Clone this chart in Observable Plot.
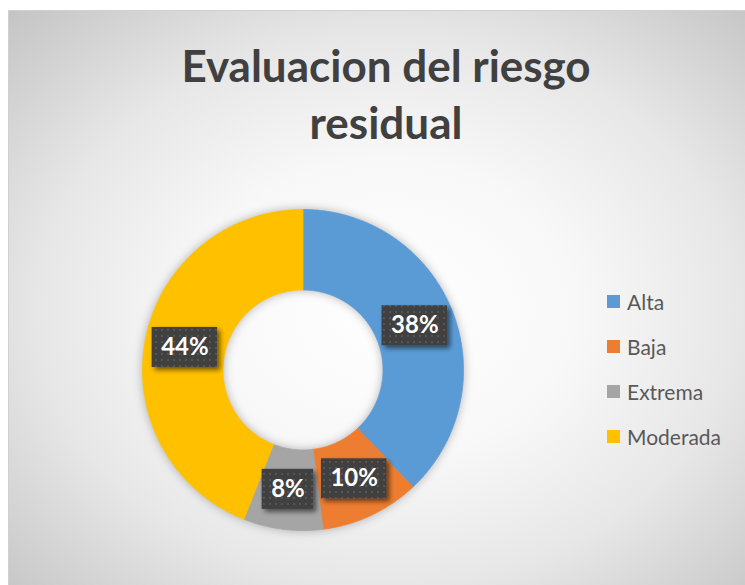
<!DOCTYPE html>
<html><head><meta charset="utf-8">
<script src="https://cdn.jsdelivr.net/npm/d3@7"></script>
<script src="https://cdn.jsdelivr.net/npm/@observablehq/plot@0.6"></script>
<style>
html,body{margin:0;padding:0;background:#fff;width:745px;height:585px;overflow:hidden;}
#chart{position:absolute;left:8px;top:10px;width:760px;height:600px;box-sizing:border-box;border:1px solid #d0d0d0;
  background:radial-gradient(ellipse farthest-corner at 50% 50%, #ffffff 0%, #f8f8f8 35%, #e7e7e7 65%, #c4c4c4 100%);}
#title{position:absolute;left:0;width:754px;top:26px;text-align:center;font-family:Lato,sans-serif;font-weight:700;font-size:44px;line-height:57px;color:#404040;}
#plot{position:absolute;left:0;top:160px;}
#legend{position:absolute;left:598px;top:268px;}
.item{height:45px;display:flex;align-items:center;font-family:Lato,sans-serif;font-size:21px;color:#595959;}
.sw{width:13px;height:13px;margin-right:7px;}
</style></head>
<body>
<div id="chart">
  <div id="title">Evaluacion del riesgo<br>residual</div>
  <div id="plot"></div>
  <div id="legend"></div>
</div>
<script>
const categories = ["Alta", "Baja", "Extrema", "Moderada"];
const percents = [38, 10, 8, 44];
const colors = ["#5B9BD5", "#ED7D31", "#A5A5A5", "#FFC000"];

const W = 590, H = 430, CX = 293.5, CY = 198.5;
const R0 = 80, R1 = 160.5, RM = (R0 + R1) / 2;

const total = d3.sum(percents);
let acc = 0;
const slices = categories.map((c, i) => {
  const a0 = acc / total * 2 * Math.PI; acc += percents[i];
  const a1 = acc / total * 2 * Math.PI;
  return {category: c, a0, a1, v: percents[i]};
});
const pts = [];
for (const s of slices) {
  const n = Math.max(2, Math.ceil((s.a1 - s.a0) / (Math.PI / 360)));
  for (let k = 0; k <= n; k++) { const a = s.a0 + (s.a1 - s.a0) * k / n; pts.push({category: s.category, x: R1 * Math.sin(a), y: R1 * Math.cos(a)}); }
  for (let k = n; k >= 0; k--) { const a = s.a0 + (s.a1 - s.a0) * k / n; pts.push({category: s.category, x: R0 * Math.sin(a), y: R0 * Math.cos(a)}); }
  pts.push({category: s.category, x: R1 * Math.sin(s.a0), y: R1 * Math.cos(s.a0)});
}
const labels = slices.map(s => { const a = (s.a0 + s.a1) / 2; return {x: RM * Math.sin(a), y: RM * Math.cos(a), text: s.v + "%"}; });

const plot = Plot.plot({
  width: W, height: H, margin: 0,
  style: {background: "transparent", overflow: "visible"},
  x: {domain: [-CX, W - CX], axis: null},
  y: {domain: [-(H - CY), CY], axis: null},
  color: {domain: categories, range: colors},
  marks: [
    Plot.line(pts, {x: "x", y: "y", z: "category", fill: "category", stroke: "category", strokeWidth: 0.8, curve: "linear"}),
    Plot.text(labels, {x: "x", y: "y", text: "text", fill: "white", fontSize: 24, fontWeight: "bold", fontFamily: "Lato"})
  ]
});
document.getElementById("plot").appendChild(plot);

const svg = d3.select(plot);
const defs = svg.insert("defs", ":first-child");
const pat = defs.append("pattern").attr("id", "dots").attr("width", 6).attr("height", 6).attr("patternUnits", "userSpaceOnUse");
pat.append("rect").attr("width", 6).attr("height", 6).attr("fill", "#404040");
pat.append("rect").attr("x", 2).attr("y", 2).attr("width", 2).attr("height", 2).attr("fill", "#555555");
const f = defs.append("filter").attr("id", "sh").attr("x", "-30%").attr("y", "-30%").attr("width", "170%").attr("height", "190%");
f.append("feDropShadow").attr("dx", 3).attr("dy", 3).attr("stdDeviation", 2.5).attr("flood-color", "#000").attr("flood-opacity", 0.55);

svg.select('g[aria-label="line"]').style("filter", "drop-shadow(0px 0px 5px rgba(0,0,0,0.28))");

const xs = plot.scale("x"), ys = plot.scale("y");
const textG = plot.querySelector('g[aria-label="text"]');
const boxG = svg.insert("g", () => textG);
const texts = textG.querySelectorAll("text");
labels.forEach((d, i) => {
  const bb = texts[i].getBBox();
  const w = bb.width + 18, h = 40;
  const cx = xs.apply(d.x), cy = ys.apply(d.y);
  boxG.append("rect").attr("x", cx - w / 2).attr("y", cy - h / 2).attr("width", w).attr("height", h)
    .attr("fill", "url(#dots)").attr("filter", "url(#sh)");
});

const leg = d3.select("#legend");
categories.forEach((c, i) => {
  const it = leg.append("div").attr("class", "item");
  it.append("div").attr("class", "sw").style("background", colors[i]);
  it.append("span").text(c);
});
</script>
</body></html>
